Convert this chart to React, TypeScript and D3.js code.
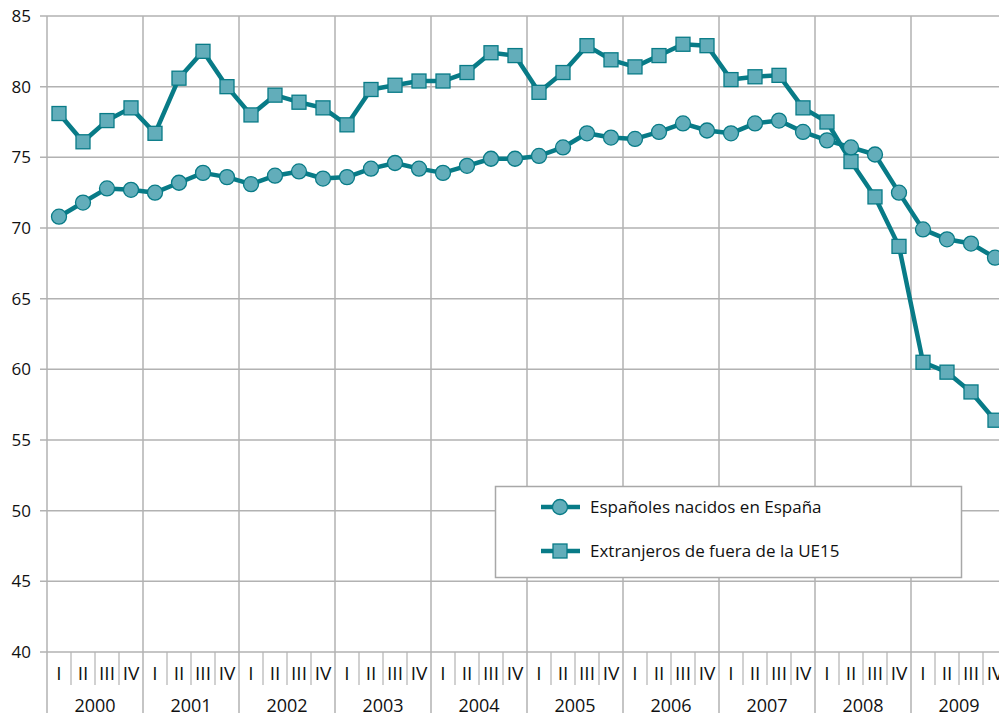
import React from "react";
import * as d3 from "d3";

const years = ["2000","2001","2002","2003","2004","2005","2006","2007","2008","2009"];
const quarters = ["I","II","III","IV"];
const yTicks = [40,45,50,55,60,65,70,75,80,85];

const seriesNames = ["Españoles nacidos en España", "Extranjeros de fuera de la UE15"];

const espanoles = [
  70.8, 71.8, 72.8, 72.7,
  72.5, 73.2, 73.9, 73.6,
  73.1, 73.7, 74.0, 73.5,
  73.6, 74.2, 74.6, 74.2,
  73.9, 74.4, 74.9, 74.9,
  75.1, 75.7, 76.7, 76.4,
  76.3, 76.8, 77.4, 76.9,
  76.7, 77.4, 77.6, 76.8,
  76.2, 75.7, 75.2, 72.5,
  69.9, 69.2, 68.9, 67.9,
];

const extranjeros = [
  78.1, 76.1, 77.6, 78.5,
  76.7, 80.6, 82.5, 80.0,
  78.0, 79.4, 78.9, 78.5,
  77.3, 79.8, 80.1, 80.4,
  80.4, 81.0, 82.4, 82.2,
  79.6, 81.0, 82.9, 81.9,
  81.4, 82.2, 83.0, 82.9,
  80.5, 80.7, 80.8, 78.5,
  77.5, 74.7, 72.2, 68.7,
  60.5, 59.8, 58.4, 56.4,
];

const W = 999, H = 713;
const LINE = "#087b87";
const FILL = "#62adba";
const GRID = "#b2b2b2";
const FONT = "'Open Sans', 'Noto Sans', sans-serif";

export default function App() {
  const nQ = years.length * quarters.length;
  const x = d3.scaleLinear().domain([0, nQ]).range([47, 47 + nQ * 24]);
  const y = d3.scaleLinear().domain([40, 85]).range([652, 16]);
  const line = d3.line<number>().x((_, i) => x(i + 0.5)).y(d => y(d));

  const legendY = [507, 551];

  return (
    <svg width={W} height={H} style={{ position: "absolute", left: 0, top: 0 }} fontFamily={FONT}>
      <rect width={W} height={H} fill="#fff" />
      {/* horizontal grid */}
      {yTicks.map(t => (
        <g key={t}>
          <line x1={40} x2={W} y1={y(t)} y2={y(t)} stroke={GRID} strokeWidth={1.5} />
          <text x={31} y={y(t) + 6} textAnchor="end" fontSize={17} fill="#111">{t}</text>
        </g>
      ))}
      {/* year lines */}
      {d3.range(years.length + 1).map(k => (
        <line key={"yl" + k} x1={x(k * 4)} x2={x(k * 4)} y1={16} y2={H} stroke={GRID} strokeWidth={1.5} />
      ))}
      {/* quarter separators */}
      {d3.range(nQ).filter(i => i % 4 !== 0).map(i => (
        <line key={"qs" + i} x1={x(i)} x2={x(i)} y1={652} y2={685} stroke={GRID} strokeWidth={1.2} />
      ))}
      {/* quarter labels */}
      {d3.range(nQ).map(i => (
        <text key={"ql" + i} x={x(i + 0.5)} y={680} textAnchor="middle" fontSize={19} fill="#111">{quarters[i % 4]}</text>
      ))}
      {/* year labels */}
      {years.map((yr, k) => (
        <text key={yr} x={x(k * 4 + 2)} y={712} textAnchor="middle" fontSize={18} fill="#111">{yr}</text>
      ))}
      {/* series lines */}
      <path d={line(extranjeros) || ""} fill="none" stroke={LINE} strokeWidth={4.5} strokeLinejoin="round" />
      <path d={line(espanoles) || ""} fill="none" stroke={LINE} strokeWidth={4.5} strokeLinejoin="round" />
      {extranjeros.map((v, i) => (
        <rect key={"s" + i} x={x(i + 0.5) - 7} y={y(v) - 7} width={14} height={14} fill={FILL} stroke={LINE} strokeWidth={1.3} />
      ))}
      {espanoles.map((v, i) => (
        <circle key={"c" + i} cx={x(i + 0.5)} cy={y(v)} r={7.5} fill={FILL} stroke={LINE} strokeWidth={1.3} />
      ))}
      {/* legend */}
      <rect x={495.5} y={486.5} width={466} height={91} fill="#fff" stroke="#a8a8a8" strokeWidth={1.5} />
      {seriesNames.map((name, k) => (
        <g key={name}>
          <line x1={541} x2={580} y1={legendY[k]} y2={legendY[k]} stroke={LINE} strokeWidth={4.5} />
          {k === 0 ? (
            <circle cx={560} cy={legendY[k]} r={7.5} fill={FILL} stroke={LINE} strokeWidth={1.3} />
          ) : (
            <rect x={553} y={legendY[k] - 7} width={14} height={14} fill={FILL} stroke={LINE} strokeWidth={1.3} />
          )}
          <text x={590} y={legendY[k] + 6} fontSize={17} fill="#111">{name}</text>
        </g>
      ))}
    </svg>
  );
}
